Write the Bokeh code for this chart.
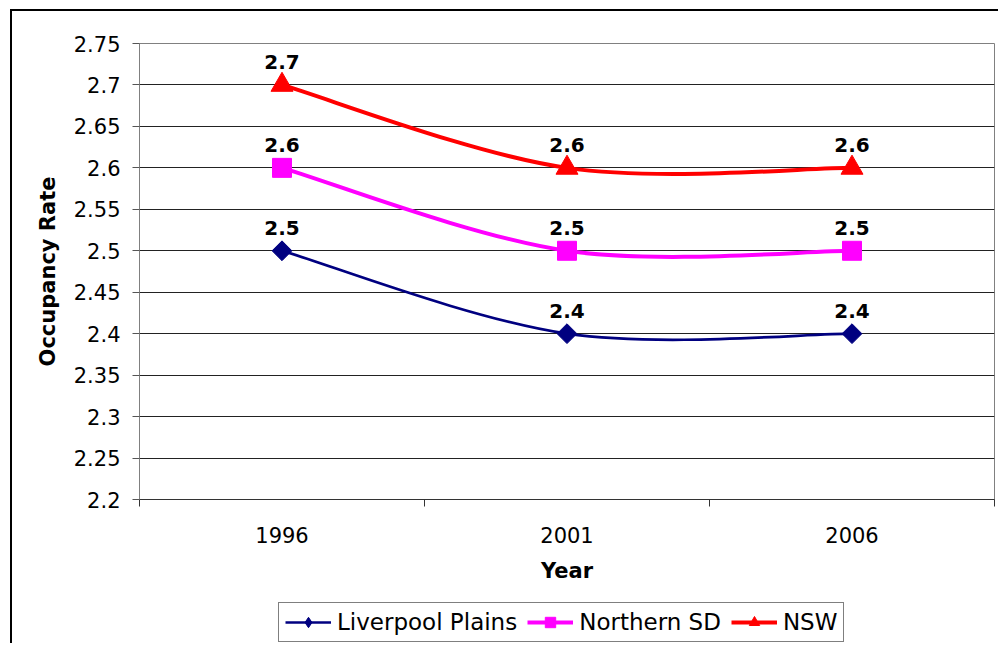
import numpy as np
from bokeh.plotting import figure
from bokeh.layouts import column
from bokeh.models import (FixedTicker, CustomJSTickFormatter, Legend, LegendItem,
                          ColumnDataSource, Range1d)
from bokeh.core.properties import value
from bokeh.embed import file_html
from bokeh.resources import INLINE

# ---- data ----
years = ["1996", "2001", "2006"]
liverpool_plains = [2.5, 2.4, 2.4]
northern_sd = [2.6, 2.5, 2.5]
nsw = [2.7, 2.6, 2.6]
y_ticks = [2.2, 2.25, 2.3, 2.35, 2.4, 2.45, 2.5, 2.55, 2.6, 2.65, 2.7, 2.75]
series_names = ["Liverpool Plains", "Northern SD", "NSW"]

FONT = "DejaVu Sans"
x_pos = [i + 0.5 for i in range(len(years))]

W = 986
p = figure(width=W, height=579, x_range=Range1d(0, len(years)),
           y_range=Range1d(y_ticks[0], y_ticks[-1]),
           output_backend="svg", toolbar_location=None,
           min_border_left=127, min_border_right=4, min_border_top=32,
           min_border_bottom=91, background_fill_color="white",
           border_fill_color="white")
p.outline_line_color = "#808080"
p.outline_line_width = 1

# grid
p.xgrid.visible = False
p.ygrid.ticker = FixedTicker(ticks=y_ticks)
p.ygrid.grid_line_color = "#222222"
p.ygrid.grid_line_width = 1

# y axis
ya = p.yaxis[0]
ya.ticker = FixedTicker(ticks=y_ticks)
ya.formatter = CustomJSTickFormatter(code="return tick.toFixed(2).replace(/0$/, '')")
ya.axis_line_color = "#808080"
ya.major_tick_line_color = "#555555"
ya.major_tick_out = 7
ya.major_tick_in = 0
ya.minor_tick_line_color = None
ya.major_label_standoff = 12
ya.major_label_text_font = FONT
ya.major_label_text_font_size = "21px"
ya.major_label_text_color = "black"
ya.axis_label = "Occupancy Rate"
ya.axis_label_text_font = FONT
ya.axis_label_text_font_style = "bold"
ya.axis_label_text_font_size = "21px"
ya.axis_label_text_color = "black"
ya.axis_label_standoff = 11

# x axis
xa = p.xaxis[0]
xa.ticker = FixedTicker(ticks=x_pos, minor_ticks=list(range(len(years) + 1)))
xa.formatter = CustomJSTickFormatter(args=dict(labels=years),
                                     code="return labels[Math.round(tick - 0.5)]")
xa.axis_line_color = "#333333"
xa.major_tick_out = 0
xa.major_tick_in = 0
xa.minor_tick_out = 7
xa.minor_tick_in = 0
xa.minor_tick_line_color = "#333333"
xa.major_label_standoff = 20
xa.major_label_text_font = FONT
xa.major_label_text_font_size = "21px"
xa.major_label_text_color = "black"
xa.axis_label = "Year"
xa.axis_label_text_font = FONT
xa.axis_label_text_font_style = "bold"
xa.axis_label_text_font_size = "21px"
xa.axis_label_text_color = "black"
xa.axis_label_standoff = 13


def smooth_segments(xs, ys):
    """Excel-style smoothed line as cubic Bezier segments."""
    pts = list(zip(xs, ys))
    n = len(pts)
    d = dict(x0=[], y0=[], x1=[], y1=[], cx0=[], cy0=[], cx1=[], cy1=[])
    for i in range(n - 1):
        pm = pts[i - 1] if i > 0 else pts[i]
        a = pts[i]
        b = pts[i + 1]
        pn = pts[i + 2] if i + 2 < n else pts[i + 1]
        d["x0"].append(a[0]); d["y0"].append(a[1])
        d["x1"].append(b[0]); d["y1"].append(b[1])
        d["cx0"].append(a[0] + (b[0] - pm[0]) / 6.0)
        d["cy0"].append(a[1] + (b[1] - pm[1]) / 6.0)
        d["cx1"].append(b[0] - (pn[0] - a[0]) / 6.0)
        d["cy1"].append(b[1] - (pn[1] - a[1]) / 6.0)
    return d


styles = [
    dict(vals=liverpool_plains, color="#000080", width=2.7, marker="square",
         angle=np.pi / 4, size=14, legend_marker="diamond"),
    dict(vals=northern_sd, color="#FF00FF", width=4, marker="square",
         angle=0.0, size=19, legend_marker="square"),
    dict(vals=nsw, color="#FF0000", width=4, marker="triangle",
         angle=0.0, size=22, legend_marker="triangle"),
]

# legend strip (separate small figure under the chart; frames are aligned)
lp = figure(width=W, height=53, x_range=Range1d(0, 1), y_range=Range1d(0, 1),
            output_backend="svg", toolbar_location=None,
            x_axis_location=None, y_axis_location=None,
            min_border=0, background_fill_color="white",
            border_fill_color="white")
lp.outline_line_color = None
lp.grid.visible = False

items = []
for name, st in zip(series_names, styles):
    seg = ColumnDataSource(smooth_segments(x_pos, st["vals"]))
    p.bezier(x0="x0", y0="y0", x1="x1", y1="y1", cx0="cx0", cy0="cy0",
             cx1="cx1", cy1="cy1", source=seg, line_color=st["color"],
             line_width=st["width"])
    p.scatter(x=x_pos, y=st["vals"], marker=st["marker"], angle=st["angle"],
              size=st["size"], fill_color=st["color"], line_color=st["color"])
    p.text(x=x_pos, y=st["vals"], text=[f"{v:g}" for v in st["vals"]],
           text_align="center", text_baseline="alphabetic", y_offset=-23,
           text_font=value(FONT), text_font_style="bold",
           text_font_size="20px", text_color="black")
    # legend swatches: placed outside the legend strip's visible range
    lr = lp.line(x=[-10, -9], y=[-10, -9], line_color=st["color"],
                 line_width=st["width"])
    mr = lp.scatter(x=[-10], y=[-10], marker=st["legend_marker"],
                    fill_color=st["color"], line_color=st["color"])
    items.append(LegendItem(label=name, renderers=[lr, mr]))

legend = Legend(items=items, orientation="horizontal", location=(139, 1),
                border_line_color="black", border_line_width=1,
                background_fill_color="white", background_fill_alpha=1,
                label_text_font=FONT, label_text_font_size="23px",
                label_text_color="black",
                glyph_width=46, glyph_height=26, label_standoff=6,
                spacing=10, padding=6, margin=0)
lp.add_layout(legend, "center")

layout = column(p, lp, spacing=0, margin=(9, 0, 0, 10),
                styles={"border-top": "2px solid black",
                        "border-left": "2px solid black"})

with open("out.html", "w") as f:
    f.write(file_html(layout, INLINE))
